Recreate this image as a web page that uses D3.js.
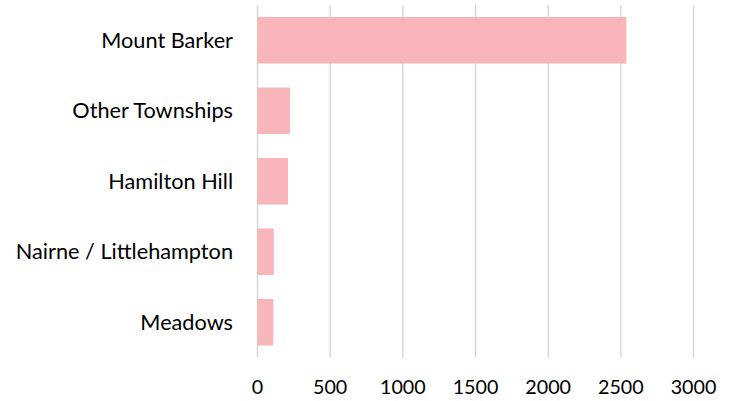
<!DOCTYPE html>
<html>
<head>
<meta charset="utf-8">
<script src="https://cdn.jsdelivr.net/npm/d3@7"></script>
<style>
  html, body { margin: 0; padding: 0; background: #fff; }
  svg { display: block; }
  text { font-family: Lato, "Open Sans", sans-serif; fill: #000; }
</style>
</head>
<body>
<svg id="chart" width="735" height="401"></svg>
<script>
const categories = ["Mount Barker", "Other Townships", "Hamilton Hill", "Nairne / Littlehampton", "Meadows"];
const values = [2538, 224, 210, 112, 109];
const tickValues = [0, 500, 1000, 1500, 2000, 2500, 3000];

const svg = d3.select("#chart");
const plotLeft = 257.5, plotRight = 693.5, plotTop = 5, plotBottom = 357.5;

const x = d3.scaleLinear().domain([0, 3000]).range([plotLeft, plotRight]);
const y = d3.scaleBand().domain(categories).range([plotTop, plotBottom]).paddingInner(0.34).paddingOuter(0.17);

// gridlines
svg.append("g")
  .selectAll("line")
  .data(tickValues)
  .join("line")
  .attr("x1", d => x(d)).attr("x2", d => x(d))
  .attr("y1", plotTop).attr("y2", plotBottom)
  .attr("stroke", "#d9d9d9")
  .attr("stroke-width", 1.5);

// bars
svg.append("g")
  .selectAll("rect")
  .data(categories)
  .join("rect")
  .attr("x", x(0))
  .attr("y", d => y(d))
  .attr("width", (d, i) => x(values[i]) - x(0))
  .attr("height", y.bandwidth())
  .attr("fill", "#f8b6ba");

// category labels
svg.append("g")
  .selectAll("text")
  .data(categories)
  .join("text")
  .attr("x", 233)
  .attr("y", d => y(d) + y.bandwidth() / 2)
  .attr("dy", "0.35em")
  .attr("text-anchor", "end")
  .style("font-size", "21.7px")
  .text(d => d);

// x tick labels
svg.append("g")
  .selectAll("text")
  .data(tickValues)
  .join("text")
  .attr("x", d => x(d))
  .attr("y", 387)
  .attr("dy", "0.35em")
  .attr("text-anchor", "middle")
  .style("font-size", "19.7px")
  .text(d => d);
</script>
</body>
</html>
